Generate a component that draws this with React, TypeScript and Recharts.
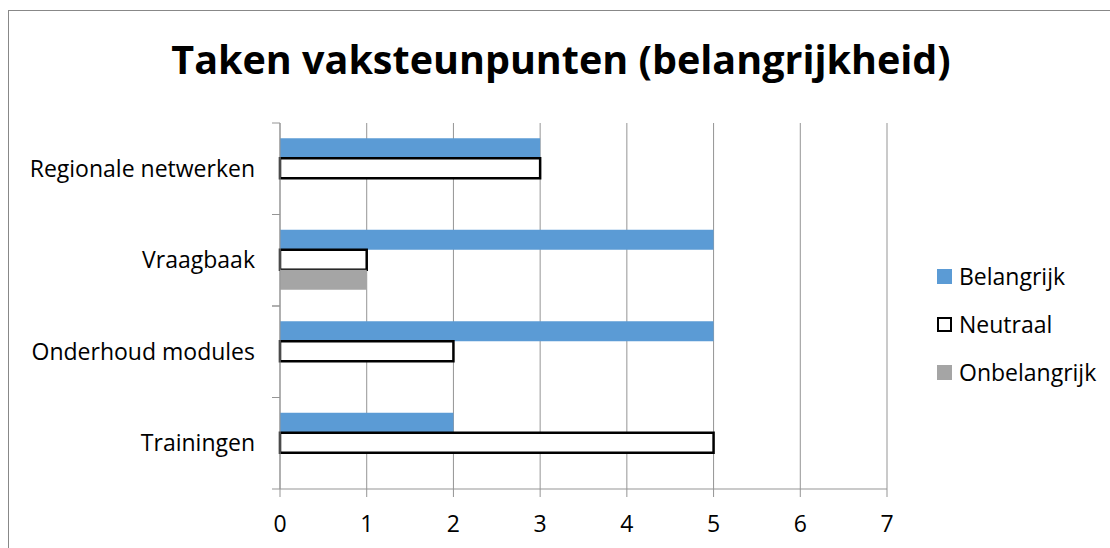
import React from "react";
import { BarChart, Bar, XAxis, YAxis, CartesianGrid, Legend } from "recharts";

// data
const categories = ["Regionale netwerken", "Vraagbaak", "Onderhoud modules", "Trainingen"];
const belangrijk = [3, 5, 5, 2];
const neutraal = [3, 1, 2, 5];
const onbelangrijk = [0, 1, 0, 0];
const xTicks = [0, 1, 2, 3, 4, 5, 6, 7];

const data = categories.map((name, i) => ({
  name,
  belangrijk: belangrijk[i],
  neutraal: neutraal[i],
  onbelangrijk: onbelangrijk[i],
}));

const series = [
  { key: "belangrijk", label: "Belangrijk", fill: "#5B9BD5", stroke: "none" },
  { key: "neutraal", label: "Neutraal", fill: "#FFFFFF", stroke: "#000000" },
  { key: "onbelangrijk", label: "Onbelangrijk", fill: "#A5A5A5", stroke: "none" },
];

const FONT = "'Open Sans', sans-serif";
const AXIS = "#959595";
const TICK_SIZE = 8;
const Y_TICK_MARGIN = 17;

/** Category label + tick marks on the band edges (Excel style). */
function CategoryTick(props: any) {
  const { x, y, payload } = props;
  const axisX = x + Y_TICK_MARGIN + TICK_SIZE;
  const half = payload?.offset ?? 0;
  return (
    <g>
      <line x1={axisX - TICK_SIZE} x2={axisX} y1={y - half} y2={y - half} stroke={AXIS} />
      <line x1={axisX - TICK_SIZE} x2={axisX} y1={y + half} y2={y + half} stroke={AXIS} />
      <text x={x} y={y} dy="0.355em" textAnchor="end" fontSize={23} fontFamily={FONT} fill="#000">
        {payload.value}
      </text>
    </g>
  );
}

function LegendContent() {
  return (
    <div style={{ display: "flex", flexDirection: "column", fontFamily: FONT, fontSize: 23, color: "#000" }}>
      {series.map((s) => (
        <div key={s.key} style={{ height: 48, display: "flex", alignItems: "center" }}>
          <span
            style={{
              width: 15,
              height: 15,
              boxSizing: "border-box",
              background: s.fill,
              border: s.stroke !== "none" ? "2px solid #000" : "none",
              marginRight: 7,
            }}
          />
          <span>{s.label}</span>
        </div>
      ))}
    </div>
  );
}

export default function App() {
  return (
    <div style={{ position: "relative", width: 1110, height: 548, overflow: "hidden", background: "#fff" }}>
      <style>{`body{margin:0;overflow:hidden}`}</style>
      {/* chart area border, runs off the right/bottom edge */}
      <div
        style={{
          position: "absolute",
          left: 8,
          top: 10,
          width: 1120,
          height: 560,
          border: "1px solid #888",
        }}
      />
      <div
        style={{
          position: "absolute",
          left: 0,
          top: 38.7,
          width: 1122,
          textAlign: "center",
          fontFamily: FONT,
          fontWeight: 700,
          fontSize: 39.5,
          lineHeight: "40px",
          color: "#000",
        }}
      >
        Taken vaksteunpunten (belangrijkheid)
      </div>
      <div style={{ position: "absolute", left: 0, top: 0 }}>
        <BarChart
          width={1110}
          height={548}
          data={data}
          layout="vertical"
          margin={{ top: 123, right: 223, bottom: 0, left: 0 }}
          barCategoryGap="16.7%"
          barGap={0}
        >
          <CartesianGrid horizontal={false} stroke={AXIS} />
          <XAxis
            type="number"
            domain={[0, 7]}
            ticks={xTicks}
            interval={0}
            height={59}
            tickSize={TICK_SIZE}
            tickMargin={19}
            axisLine={{ stroke: AXIS }}
            tickLine={{ stroke: AXIS }}
            tick={{ fontSize: 23, fontFamily: FONT, fill: "#000" }}
          />
          <YAxis
            type="category"
            dataKey="name"
            width={280}
            tickSize={TICK_SIZE}
            tickMargin={Y_TICK_MARGIN}
            axisLine={{ stroke: AXIS }}
            tickLine={false}
            tick={<CategoryTick />}
            interval={0}
          />
          <Legend
            layout="horizontal"
            align="center"
            verticalAlign="middle"
            content={<LegendContent />}
            wrapperStyle={{ left: 937, top: 252, width: 170 }}
          />
          {series.map((s) => (
            <Bar
              key={s.key}
              dataKey={s.key}
              name={s.label}
              fill={s.fill}
              stroke={s.stroke}
              strokeWidth={s.stroke === "none" ? 0 : 2.5}
              isAnimationActive={false}
            />
          ))}
        </BarChart>
      </div>
    </div>
  );
}
